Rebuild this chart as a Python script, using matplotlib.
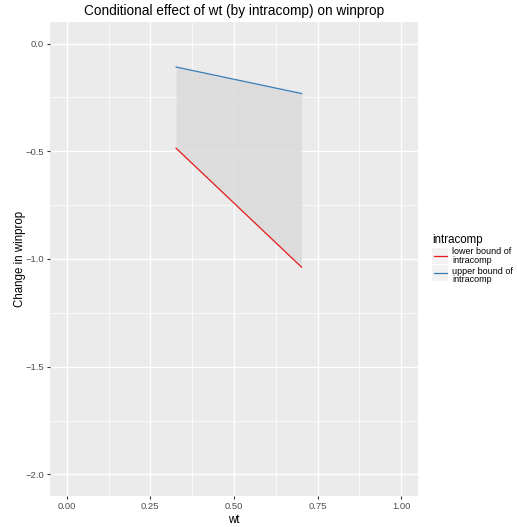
import matplotlib
matplotlib.use("Agg")
import matplotlib.pyplot as plt
from matplotlib.patches import Rectangle
from matplotlib.lines import Line2D

plt.rcParams['font.family'] = ['Liberation Sans', 'DejaVu Sans']

wt = [0.327, 0.702]
lower = [-0.486, -1.038]
upper = [-0.109, -0.232]
series_labels = ["lower bound of\nintracomp", "upper bound of\nintracomp"]
series_colors = ["#E41A1C", "#377EB8"]
xticks = [0.00, 0.25, 0.50, 0.75, 1.00]
yticks = [0.0, -0.5, -1.0, -1.5, -2.0]

W, H = 517, 527
fig = plt.figure(figsize=(W / 100, H / 100), dpi=100)
ax = fig.add_axes([50/W, 1-496/H, (418-50)/W, (496-22)/H])
ax.set_facecolor('#EBEBEB')
for s in ax.spines.values():
    s.set_visible(False)

ax.fill_between(wt, lower, upper, color='#D9D9D9', alpha=0.8, linewidth=0, zorder=2)
ax.plot(wt, lower, color=series_colors[0], lw=0.9, zorder=3)
ax.plot(wt, upper, color=series_colors[1], lw=0.9, zorder=3)

ax.set_xlim(-0.05, 1.05)
ax.set_ylim(-2.1, 0.1)
ax.set_xticks(xticks)
ax.set_xticklabels(["0.00", "0.25", "0.50", "0.75", "1.00"])
ax.set_yticks(yticks)
ax.set_yticklabels(["0.0", "\u22120.5", "\u22121.0", "\u22121.5", "\u22122.0"])
ax.set_xticks([0.125, 0.375, 0.625, 0.875], minor=True)
ax.set_yticks([-0.25, -0.75, -1.25, -1.75], minor=True)
ax.grid(True, which='major', color='white', lw=1.0, zorder=0)
ax.grid(True, which='minor', color='white', lw=0.5, zorder=0)
ax.set_axisbelow(True)
ax.tick_params(which='major', length=2.5, width=0.8, color='#333333', labelsize=6.8, labelcolor='#4D4D4D', pad=2)
ax.tick_params(which='minor', length=0)
ax.set_xlabel("wt", fontsize=8.3, labelpad=2)
ax.set_ylabel("Change in winprop", fontsize=8.3)
ax.yaxis.set_label_coords((26 - 50) / 368, 0.5)
ax.set_title("Conditional effect of wt (by intracomp) on winprop", fontsize=9.8, pad=5)

# legend drawn by hand (ggplot-style keys with two-line labels)
def fx(px):
    return px / W

def fy(py):
    return 1 - py / H

fig.text(fx(432), fy(239.5), "intracomp", fontsize=8.3, ha='left', va='center')
key_tops = [248, 264.5]
key_h = 16
label_centers = [256.3, 275.6]
for i, c in enumerate(series_colors):
    top = key_tops[i]
    fig.add_artist(Rectangle((fx(432), fy(top + key_h)), fx(448) - fx(432), key_h / H,
                             transform=fig.transFigure, facecolor='#F2F2F2', edgecolor='none'))
    yc = fy(top + key_h / 2)
    fig.add_artist(Line2D([fx(433.5), fx(446.5)], [yc, yc], transform=fig.transFigure,
                          color=c, lw=0.9))
    fig.text(fx(452.5), fy(label_centers[i]), series_labels[i], fontsize=6.5,
             ha='left', va='center', linespacing=0.95)

fig.savefig("out.png", dpi=100)
